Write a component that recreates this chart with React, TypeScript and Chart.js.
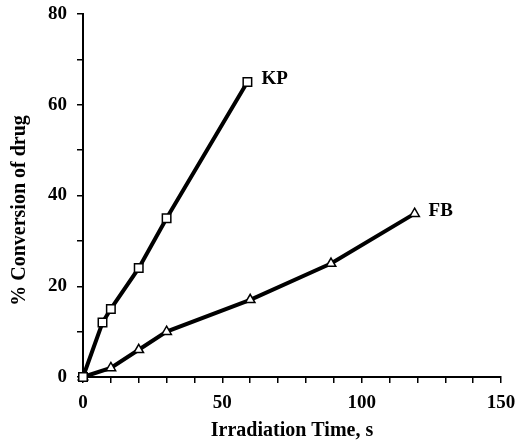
import React, { useEffect, useRef } from "react";
import { Chart, registerables } from "chart.js";

Chart.register(...registerables);

const kpTime = [0, 7, 10, 20, 30, 59];
const kpConversion = [0, 12, 15, 24, 35, 65];
const fbTime = [0, 10, 20, 30, 60, 89, 119];
const fbConversion = [0, 2, 6, 10, 17, 25, 36];
const seriesNames = ["KP", "FB"];
const xTitle = "Irradiation Time, s";
const yTitle = "% Conversion of drug";

const FONT = "'Liberation Serif', 'DejaVu Serif', serif";

const endLabels = {
  id: "endLabels",
  afterDatasetsDraw(chart: any) {
    const ctx = chart.ctx;
    ctx.save();
    ctx.fillStyle = "#000";
    ctx.font = `bold 19px ${FONT}`;
    ctx.textAlign = "left";
    ctx.textBaseline = "middle";
    chart.data.datasets.forEach((ds: any, i: number) => {
      const meta = chart.getDatasetMeta(i);
      const last = meta.data[meta.data.length - 1];
      if (!last) return;
      ctx.fillText(ds.label, last.x + 14, last.y - 3);
    });
    ctx.restore();
  },
};

const yTitlePlugin = {
  id: "yTitlePlugin",
  afterDraw(chart: any) {
    const ctx = chart.ctx;
    const area = chart.chartArea;
    ctx.save();
    ctx.fillStyle = "#000";
    ctx.font = `bold 20px ${FONT}`;
    ctx.textAlign = "center";
    ctx.textBaseline = "middle";
    ctx.translate(20, (area.top + area.bottom) / 2 + 15);
    ctx.rotate(-Math.PI / 2);
    ctx.fillText(yTitle, 0, 0);
    ctx.restore();
  },
};

export default function App() {
  const ref = useRef<HTMLCanvasElement | null>(null);
  useEffect(() => {
    if (!ref.current) return;
    const toPts = (xs: number[], ys: number[]) => xs.map((x, i) => ({ x, y: ys[i] }));
    const chart = new Chart(ref.current, {
      type: "line",
      data: {
        datasets: [
          {
            label: seriesNames[0],
            data: toPts(kpTime, kpConversion),
            borderColor: "#000",
            borderWidth: 4,
            pointStyle: "rect",
            pointRadius: 6,
            pointBorderWidth: 1.5,
            pointBackgroundColor: "#fff",
            pointBorderColor: "#000",
            clip: false as any,
          },
          {
            label: seriesNames[1],
            data: toPts(fbTime, fbConversion),
            borderColor: "#000",
            borderWidth: 4,
            pointStyle: "triangle",
            pointRadius: 5.5,
            pointBorderWidth: 1.5,
            pointBackgroundColor: "#fff",
            pointBorderColor: "#000",
            clip: false as any,
          },
        ],
      },
      options: {
        animation: false,
        responsive: false,
        devicePixelRatio: 1,
        layout: { padding: { top: 14, right: 15, left: 0, bottom: 0 } },
        plugins: { legend: { display: false }, tooltip: { enabled: false } },
        scales: {
          x: {
            type: "linear",
            min: 0,
            max: 150,
            grid: { drawOnChartArea: false, drawTicks: true, tickLength: 6, color: "#000", lineWidth: 1.5 },
            border: { color: "#000", width: 2 },
            ticks: {
              stepSize: 10,
              autoSkip: false,
              maxRotation: 0,
              color: "#000",
              padding: 9,
              font: { family: FONT, size: 19, weight: "bold" },
              callback: (v: any) => (Number(v) % 50 === 0 ? String(v) : ""),
            },
            title: {
              display: true,
              text: xTitle,
              color: "#000",
              font: { family: FONT, size: 20, weight: "bold" },
              padding: { top: 0, bottom: 0 },
            },
            afterFit: (s: any) => {
              s.height = 66;
              s.paddingLeft = 0;
              s.paddingRight = 0;
            },
          },
          y: {
            type: "linear",
            min: 0,
            max: 80,
            grid: { drawOnChartArea: false, drawTicks: true, tickLength: 6, color: "#000", lineWidth: 1.5 },
            border: { color: "#000", width: 2 },
            ticks: {
              stepSize: 10,
              autoSkip: false,
              color: "#000",
              padding: 10,
              font: { family: FONT, size: 19, weight: "bold" },
              callback: (v: any) => (Number(v) % 20 === 0 ? String(v) : ""),
            },
            title: { display: false },
            afterFit: (s: any) => {
              s.width = 83;
              s.paddingTop = 0;
              s.paddingBottom = 0;
            },
          },
        },
      },
      plugins: [endLabels, yTitlePlugin],
    });
    return () => chart.destroy();
  }, []);
  return (
    <div style={{ position: "fixed", left: 0, top: 0, width: 516, height: 443, background: "#fff" }}>
      <canvas ref={ref} width={516} height={443} style={{ width: 516, height: 443 }} />
    </div>
  );
}
